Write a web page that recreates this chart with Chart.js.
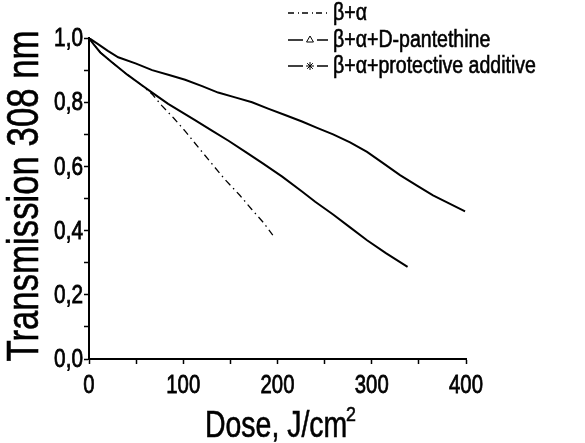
<!DOCTYPE html>
<html>
<head>
<meta charset="utf-8">
<script src="https://cdn.jsdelivr.net/npm/chart.js@4.4.1/dist/chart.umd.min.js"></script>
<style>
  html, body { margin: 0; padding: 0; background: #fff; }
  #wrap { width: 585px; height: 443px; }
</style>
</head>
<body>
<div id="wrap"><canvas id="c" width="585" height="443"></canvas></div>
<script>
const FONT = "'Liberation Sans', Arial, sans-serif";

const seriesLabels = ["β+α", "β+α+D-pantethine", "β+α+protective additive"];

// dose (J/cm2), transmission at 308 nm
const betaAlphaDose = [0, 5, 12, 24, 41, 55, 67, 77, 90, 102, 120, 144, 160, 173, 185, 195];
const betaAlphaT = [1.0, 0.98, 0.955, 0.925, 0.885, 0.855, 0.825, 0.79, 0.75, 0.71, 0.645, 0.56, 0.51, 0.465, 0.425, 0.386];

const pantethineDose = [0, 5, 12, 24, 41, 55, 67, 84, 112, 130, 148, 166, 184, 205, 226, 240, 259, 277, 295, 315, 338];
const pantethineT = [1.0, 0.98, 0.955, 0.925, 0.885, 0.855, 0.83, 0.795, 0.745, 0.712, 0.68, 0.645, 0.61, 0.568, 0.522, 0.49, 0.45, 0.41, 0.37, 0.33, 0.287];

const protectiveDose = [0, 10, 20, 31, 50, 67, 85, 102, 120, 137, 155, 173, 190, 208, 226, 242, 259, 277, 295, 312, 330, 348, 365, 382, 399];
const protectiveT = [1.0, 0.98, 0.96, 0.94, 0.92, 0.90, 0.885, 0.87, 0.85, 0.83, 0.815, 0.80, 0.78, 0.76, 0.74, 0.72, 0.70, 0.675, 0.645, 0.61, 0.573, 0.54, 0.51, 0.485, 0.46];

const xTicks = [0, 100, 200, 300, 400];
const yTicks = [0.0, 0.2, 0.4, 0.6, 0.8, 1.0];

function toPoints(xs, ys) {
    return xs.map((x, i) => ({ x, y: ys[i] }));
}

// the original uses a narrow sans; squeeze Liberation Sans horizontally
function narrowText(ctx, text, x, y, size, squeeze, align, baseline, angle, heavy) {
    ctx.save();
    ctx.translate(x, y);
    if (angle) ctx.rotate(angle);
    ctx.scale(squeeze, 1);
    ctx.font = size + "px " + FONT;
    ctx.textAlign = align;
    ctx.textBaseline = baseline;
    ctx.fillStyle = "#000";
    ctx.fillText(text, 0, 0);
    if (heavy) {
        ctx.strokeStyle = "#000";
        ctx.lineWidth = heavy;
        ctx.strokeText(text, 0, 0);
    }
    ctx.restore();
}

const textLayer = {
    id: "textLayer",
    afterDraw(chart) {
        const ctx = chart.ctx;
        const xs = chart.scales.x;
        const ys = chart.scales.y;

        yTicks.forEach((v) => {
            narrowText(ctx, v.toFixed(1).replace(".", ","), 83, ys.getPixelForValue(v) + 1, 26, 0.8, "right", "middle", 0, 0.8);
        });
        xTicks.forEach((v) => {
            narrowText(ctx, String(v), xs.getPixelForValue(v), 386, 26, 0.78, "center", "middle", 0, 0.8);
        });

        narrowText(ctx, "Transmission 308 nm", 38, 196, 44, 0.79, "center", "alphabetic", -Math.PI / 2, 0.6);
        narrowText(ctx, "Dose, J/cm", 205, 437, 36, 0.79, "left", "alphabetic", 0, 0.6);
        narrowText(ctx, "2", 346, 421, 21, 0.85, "left", "alphabetic", 0, 0.6);

        // legend: short line with marker, then the label
        const markers = ["dot", "triangle", "star"];
        const rows = [13, 40, 66];
        chart.data.datasets.forEach((ds, i) => {
            const y = rows[i];
            ctx.save();
            ctx.strokeStyle = "#000";
            ctx.lineWidth = 1.5;
            ctx.setLineDash(i === 0 ? [6, 4, 1, 3] : []);
            ctx.beginPath();
            ctx.moveTo(288, y);
            ctx.lineTo(328, y);
            ctx.stroke();
            ctx.setLineDash([]);
            if (markers[i] !== "dot") {
                ctx.fillStyle = "#fff";
                ctx.clearRect(303, y - 4, 14, 8);
                ctx.lineWidth = 1;
                Chart.helpers.drawPoint(ctx, { pointStyle: markers[i], radius: 4, borderWidth: 1 }, 310, y);
            }
            ctx.restore();
            narrowText(ctx, ds.label, 333, y + 1, 23, 0.85, "left", "middle", 0, 0.6);
        });
    },
};

new Chart(document.getElementById("c"), {
    type: "scatter",
    data: {
        datasets: [
            {
                label: seriesLabels[0],
                data: toPoints(betaAlphaDose, betaAlphaT),
                showLine: true,
                borderColor: "#000",
                borderWidth: 1.3,
                borderDash: [7, 4, 1.5, 4],
                pointRadius: 0,
            },
            {
                label: seriesLabels[1],
                data: toPoints(pantethineDose, pantethineT),
                showLine: true,
                borderColor: "#000",
                borderWidth: 2,
                pointRadius: 0,
            },
            {
                label: seriesLabels[2],
                data: toPoints(protectiveDose, protectiveT),
                showLine: true,
                borderColor: "#000",
                borderWidth: 2,
                pointRadius: 0,
            },
        ],
    },
    options: {
        responsive: false,
        animation: false,
        layout: { padding: { top: 38, right: 119, left: 0, bottom: 0 } },
        scales: {
            x: {
                type: "linear",
                min: 0,
                max: 400,
                afterFit: (s) => { s.height = 84; },
                afterBuildTicks: (s) => { s.ticks = [0, 50, 100, 150, 200, 250, 300, 350, 400].map((v) => ({ value: v })); },
                ticks: { display: false },
                grid: { drawOnChartArea: false, drawTicks: true, tickLength: 5, tickColor: "#000", tickWidth: 1.5 },
                border: { color: "#000", width: 2 },
                title: { display: false },
            },
            y: {
                type: "linear",
                min: 0,
                max: 1.0,
                afterFit: (s) => { s.width = 89; },
                afterBuildTicks: (s) => { s.ticks = [0, 0.1, 0.2, 0.3, 0.4, 0.5, 0.6, 0.7, 0.8, 0.9, 1.0].map((v) => ({ value: v })); },
                ticks: { display: false },
                grid: { drawOnChartArea: false, drawTicks: true, tickLength: 5, tickColor: "#000", tickWidth: 1.5 },
                border: { color: "#000", width: 2 },
                title: { display: false },
            },
        },
        plugins: {
            legend: { display: false },
            tooltip: { enabled: false },
        },
    },
    plugins: [textLayer],
});
</script>
</body>
</html>
